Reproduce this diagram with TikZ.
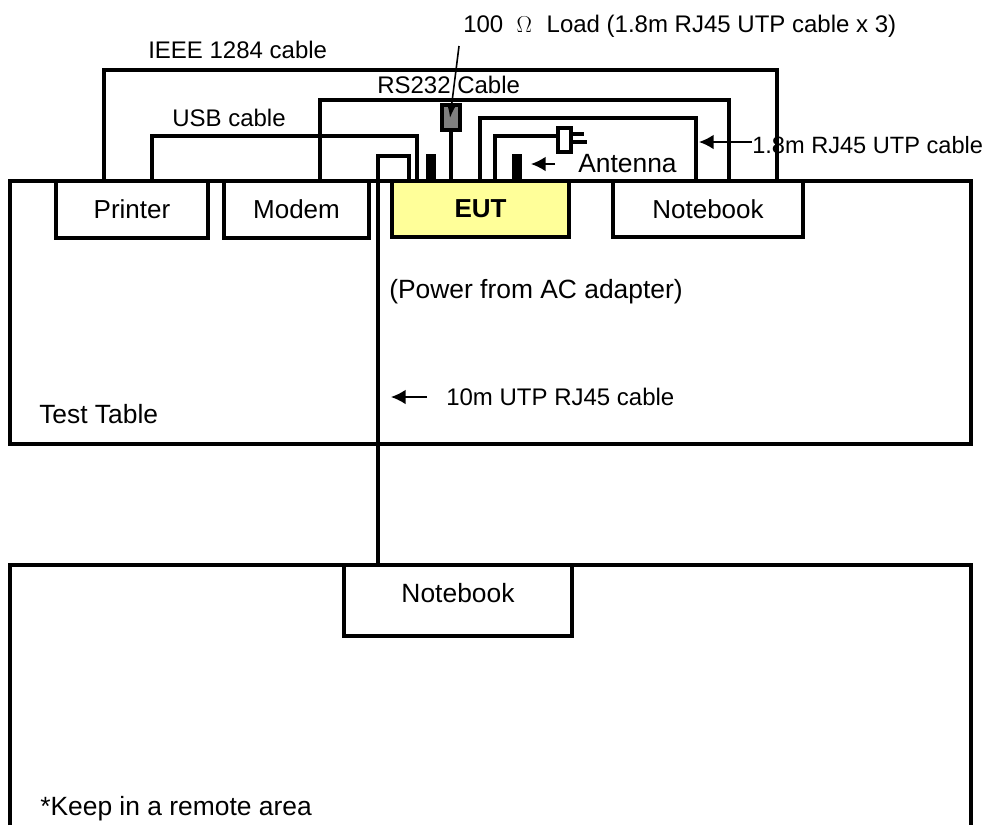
\documentclass[tikz,border=0pt]{standalone}
\usepackage{fontspec}
\setmainfont{Liberation Sans}
\tikzset{
  cable/.style={line width=2.5pt},
  thinline/.style={line width=1.2pt},
  device/.style={draw,line width=2.5pt,anchor=north west,outer sep=0pt,inner sep=0pt,font=\fontsize{19.5}{22}\selectfont},
  tag/.style={anchor=base west,inner sep=0pt,font=\fontsize{18}{20}\selectfont},
  bigtag/.style={anchor=base west,inner sep=0pt,font=\fontsize{19.8}{22}\selectfont},
  block/.style={fill=black,draw=none,anchor=north west,inner sep=0pt,outer sep=0pt,minimum width=7.5pt,minimum height=20.25pt},
  pointer/.style={line width=1.2pt,-{Latex[length=11pt,width=11pt]}}
}
\usetikzlibrary{arrows.meta}
\begin{document}
\begin{tikzpicture}[x=0.75pt,y=-0.75pt]
  \useasboundingbox (0,0) rectangle (985,825);
% Tables
  \node [device,minimum width=720.75pt,minimum height=197.25pt] (testtable) at (10,181) {};
  \draw [cable] (10,825) -- (10,565) -- (971,565) -- (971,825);

% Boxes on the test table
  \node [device,minimum width=114pt,minimum height=42.75pt] (printer) at (56,181) {Printer};
  \node [device,minimum width=108.75pt,minimum height=42.75pt] (modem) at (224,181) {Modem};
  \node [device,fill={rgb,255:red,255;green,255;blue,153},minimum width=132.75pt,minimum height=42pt,font=\fontsize{19.5}{22}\selectfont\bfseries] (eut) at (392,181) {EUT};
  \node [device,minimum width=142.5pt,minimum height=42pt] (notebook) at (613,181) {Notebook};
  \node [device,fill=white,minimum width=171pt,minimum height=53.25pt] (remote) at (344,565) {};
  \node [bigtag,anchor=center] (remotelabel) at (458,593) {Notebook};

% Cables
  \coordinate (ieeel) at (104,70); \coordinate (ieeer) at (777,70);
  \draw [cable] (printer.north -| ieeel) -- (ieeel) -- (ieeer) -- (ieeer |- notebook.north);
  \coordinate (rsl) at (320,100); \coordinate (rsr) at (729,100);
  \draw [cable] (modem.north -| rsl) -- (rsl) -- (rsr) -- (rsr |- notebook.north);
  \coordinate (usbl) at (152,136); \coordinate (usbr) at (417,136);
  \draw [cable] (printer.north -| usbl) -- (usbl) -- (usbr) -- (usbr |- eut.north);
  \coordinate (utpl) at (378,156); \coordinate (utpr) at (409,156);
  \draw [cable] (remote.north -| utpl) -- (utpl) -- (utpr) -- (utpr |- eut.north);
  \coordinate (rjl) at (480,118); \coordinate (rjr) at (696,118);
  \draw [cable] (eut.north -| rjl) -- (rjl) -- (rjr) -- (rjr |- notebook.north);

% Load, plug and antennas
  \node [device,fill=gray,minimum width=13.5pt,minimum height=18.75pt] (load) at (442,105) {};
  \draw [cable] (load.south) -- (load.south |- eut.north);
  \node [device,fill=white,minimum width=9.75pt,minimum height=18pt] (plug) at (558,128) {};
  \coordinate (plugl) at (495,136);
  \draw [cable] (eut.north -| plugl) -- (plugl) -- (plugl -| plug.west);
  \coordinate (prongup) at (584,134); \coordinate (prongdown) at (587,142);
  \draw [cable] (plug.east |- prongup) -- (prongup);
  \draw [cable] (plug.east |- prongdown) -- (prongdown);
  \node [block] (antl) at (426,154) {};
  \node [block] (antr) at (512,154) {};

% Labels
  \node [tag] (ieeelabel) at (148,58) {IEEE 1284 cable};
  \node [tag] (rslabel) at (377,93) {RS232 Cable};
  \node [tag] (usblabel) at (172,126) {USB cable};
  \node [tag] (loadlabel) at (463,32) {100 \ $\Omega$ \ \kern1pt Load (1.8m RJ45 UTP cable x 3)};
  \node [bigtag] (antlabel) at (578,172) {Antenna};
  \node [tag,font=\fontsize{17.7}{20}\selectfont] (rjlabel) at (752,153) {1.8m RJ45 UTP cable};
  \node [bigtag] (powerlabel) at (389,298) {(Power from AC adapter)};
  \node [tag] (utplabel) at (446,405) {10m UTP RJ45 cable};
  \node [bigtag] (tablelabel) at (39,423) {Test Table};
  \node [bigtag] (keeplabel) at (40,815) {*Keep in a remote area};

% Pointers
  \coordinate (loadtop) at (459,46); \coordinate (loadtip) at (450,118);
  \draw [thinline,-{Latex[length=10pt,width=7pt]}] (loadtop) -- (loadtip);
  \coordinate (anttail) at (555,164); \coordinate (anttip) at (531,164);
  \draw [pointer] (anttail) -- (anttip);
  \coordinate (rjtail) at (752,142); \coordinate (rjtip) at (699,142);
  \draw [pointer] (rjtail) -- (rjtip);
  \coordinate (utptail) at (427,397); \coordinate (utptip) at (391,397);
  \draw [pointer] (utptail) -- (utptip);
\end{tikzpicture}
\end{document}
